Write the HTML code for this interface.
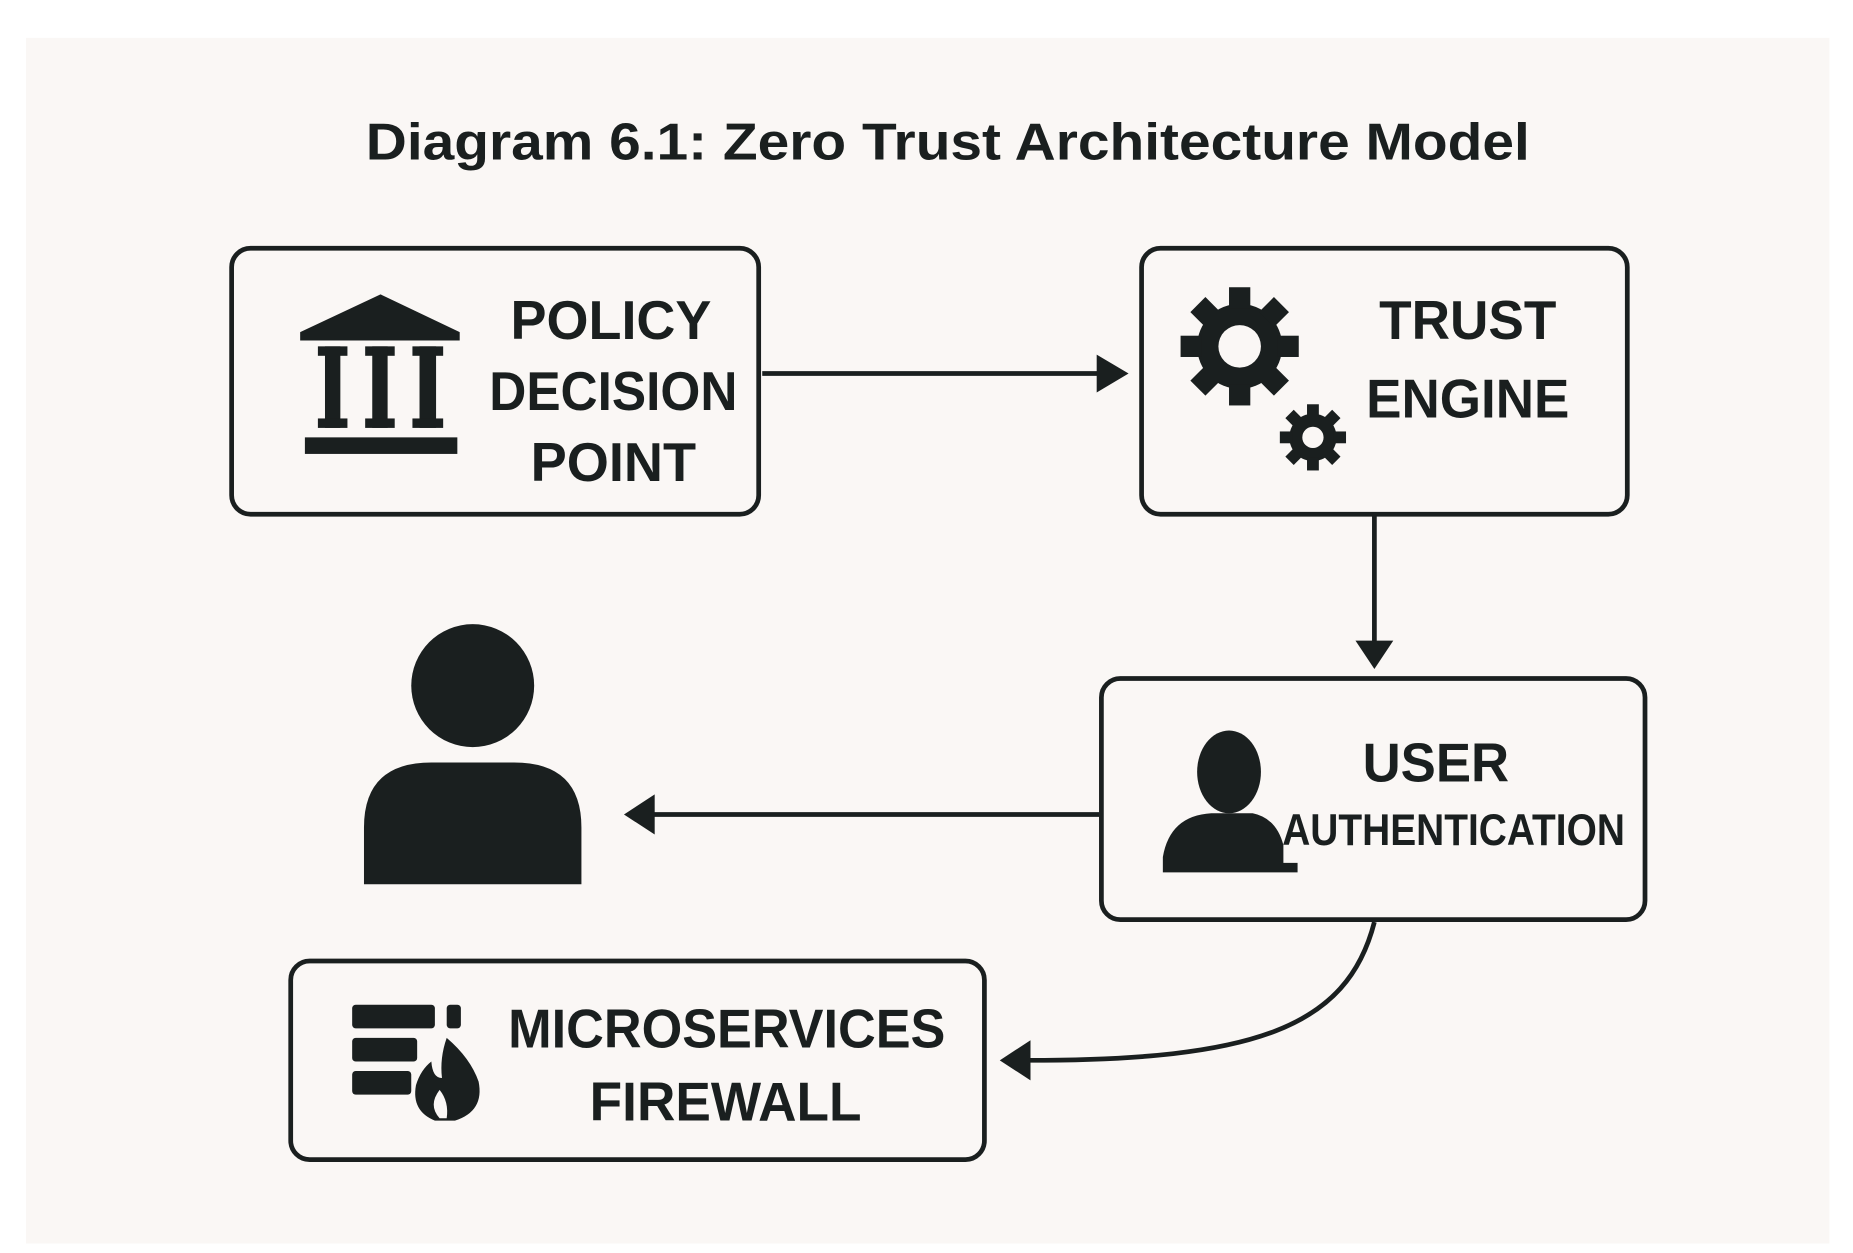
<!DOCTYPE html>
<html><head><meta charset="utf-8"><style>
html,body{margin:0;padding:0;background:#fff;}
svg{display:block;}
text{font-family:"Liberation Sans",sans-serif;fill:#1a1f1f;}
</style></head><body>
<svg width="1853" height="1253" viewBox="0 0 1568 1060" preserveAspectRatio="none">
<rect x="0" y="0" width="1568" height="1060" fill="#ffffff"/>
<rect x="22" y="32" width="1526" height="1020" fill="#faf7f5"/>
<text x="802" y="135" font-size="44" text-anchor="middle" font-weight="bold" textLength="985" lengthAdjust="spacingAndGlyphs">Diagram 6.1: Zero Trust Architecture Model</text>
<g fill="none" stroke="#1a1f1f" stroke-width="4">
<rect x="196" y="210" width="446" height="225" rx="16"/>
<rect x="966" y="210" width="411" height="225" rx="16"/>
<rect x="932" y="574" width="460" height="204" rx="16"/>
<rect x="246" y="813" width="587" height="168" rx="16"/>
<line x1="645" y1="316" x2="930" y2="316"/>
<line x1="1163" y1="436" x2="1163" y2="545"/>
<line x1="930" y1="689" x2="550" y2="689"/>
<path d="M1163 780 C1140 870 1060 897 870 897"/>
</g>
<g fill="#1a1f1f">
<polygon points="928,300 955,316 928,332"/>
<polygon points="1147,542 1163,566 1179,542"/>
<polygon points="554,672 528,689 554,706"/>
<polygon points="872,880 846,897 872,914"/>
<!-- bank icon -->
<polygon points="254,281 322,249 389,281 389,288 254,288"/>
<g>
<rect x="269" y="293" width="25" height="8"/><rect x="275" y="293" width="13" height="69"/><rect x="269" y="354" width="25" height="8"/>
<rect x="309" y="293" width="25" height="8"/><rect x="315" y="293" width="13" height="69"/><rect x="309" y="354" width="25" height="8"/>
<rect x="349" y="293" width="26" height="8"/><rect x="355" y="293" width="14" height="69"/><rect x="349" y="354" width="26" height="8"/>
</g>
<rect x="258" y="370" width="129" height="14"/>
<!-- person -->
<circle cx="400" cy="580" r="52"/>
<path d="M308 748 L308 700 Q308 645 365 645 L435 645 Q492 645 492 700 L492 748 Z"/>
<!-- user auth icon -->
<ellipse cx="1040" cy="653" rx="27" ry="35"/>
<path d="M984 738 L984 725 Q990 690 1025 688 L1060 688 Q1080 692 1086 715 L1086 730 L1098 730 L1098 738 Z"/>
<!-- firewall icon -->
<rect x="298" y="850" width="70" height="20" rx="3"/><rect x="378" y="850" width="12" height="20" rx="3"/>
<rect x="298" y="878" width="55" height="20" rx="3"/>
<rect x="298" y="906" width="50" height="20" rx="3"/>
<path d="M378 878 Q398 895 405 915 Q410 940 385 948 L368 948 Q348 940 352 918 Q356 905 365 898 Q366 912 374 912 Q372 895 378 878 Z"/>
</g>
<path d="M372 946 Q362 935 372 922 Q380 932 378 946 Z" fill="#faf7f5"/>
<!-- gears -->
<g fill="#1a1f1f">
<g transform="translate(1049,293)">
<circle r="36"/>
<g id="t"><rect x="-9" y="-50" width="18" height="18"/></g>
<use href="#t" transform="rotate(45)"/><use href="#t" transform="rotate(90)"/><use href="#t" transform="rotate(135)"/>
<use href="#t" transform="rotate(180)"/><use href="#t" transform="rotate(225)"/><use href="#t" transform="rotate(270)"/><use href="#t" transform="rotate(315)"/>
<circle r="18" fill="#faf7f5"/>
</g>
<g transform="translate(1111,370)">
<circle r="20"/>
<g id="t2"><rect x="-5" y="-28" width="10" height="11"/></g>
<use href="#t2" transform="rotate(45)"/><use href="#t2" transform="rotate(90)"/><use href="#t2" transform="rotate(135)"/>
<use href="#t2" transform="rotate(180)"/><use href="#t2" transform="rotate(225)"/><use href="#t2" transform="rotate(270)"/><use href="#t2" transform="rotate(315)"/>
<circle r="9" fill="#faf7f5"/>
</g>
</g>
<g font-weight="bold" font-size="46" text-anchor="middle">
<text x="517" y="287" textLength="170" lengthAdjust="spacingAndGlyphs">POLICY</text>
<text x="519" y="347" textLength="210" lengthAdjust="spacingAndGlyphs">DECISION</text>
<text x="519" y="407" textLength="140" lengthAdjust="spacingAndGlyphs">POINT</text>
<text x="1242" y="287" textLength="150" lengthAdjust="spacingAndGlyphs">TRUST</text>
<text x="1242" y="353" textLength="172" lengthAdjust="spacingAndGlyphs">ENGINE</text>
<text x="1215" y="661" textLength="124" lengthAdjust="spacingAndGlyphs">USER</text>
<text x="1230" y="715" font-size="38" textLength="290" lengthAdjust="spacingAndGlyphs">AUTHENTICATION</text>
<text x="615" y="886" textLength="370" lengthAdjust="spacingAndGlyphs">MICROSERVICES</text>
<text x="614" y="948" textLength="230" lengthAdjust="spacingAndGlyphs">FIREWALL</text>
</g>
</svg>
</body></html>
